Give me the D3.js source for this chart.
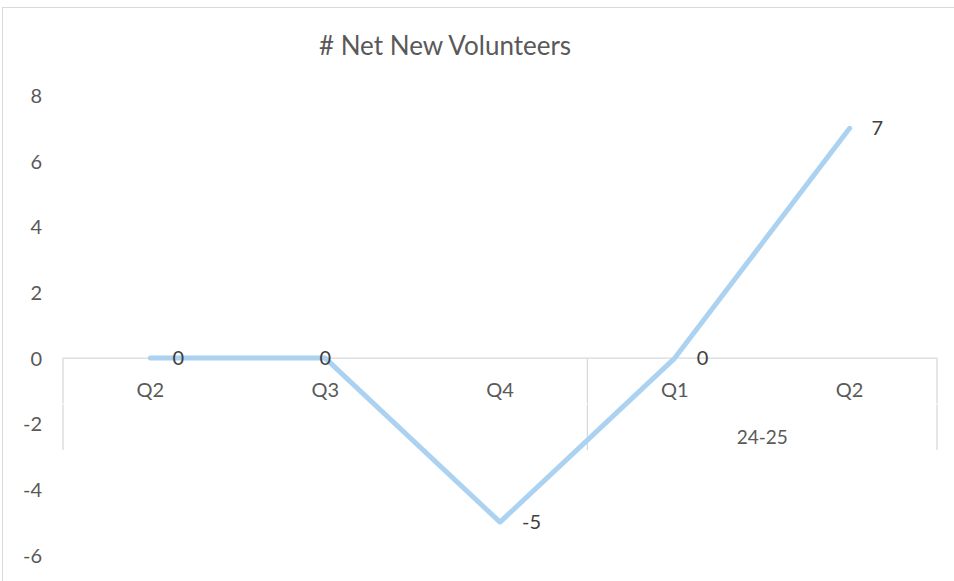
<!DOCTYPE html>
<html>
<head>
<meta charset="utf-8">
<script src="https://cdn.jsdelivr.net/npm/d3@7"></script>
<style>
  html, body { margin: 0; padding: 0; background: #fff; }
  svg { display: block; font-family: Lato, "Open Sans", sans-serif; }
</style>
</head>
<body>
<svg id="chart" width="954" height="581"></svg>
<script>
// Quarterly net change in volunteer count
const chartTitle = "# Net New Volunteers";
const quarters = ["Q2", "Q3", "Q4", "Q1", "Q2"];
const fiscalYears = ["", "", "", "24-25", "24-25"];
const netNew = [0, 0, -5, 0, 7];
const yTicks = [-6, -4, -2, 0, 2, 4, 6, 8];

const svg = d3.select("#chart");
const W = 954, H = 581;
const fmt = d => String(d);   // plain hyphen-minus for negatives

// chart area frame
svg.append("rect")
  .attr("x", 2.5).attr("y", 7.5)
  .attr("width", W + 10).attr("height", H + 10)
  .attr("fill", "#fff").attr("stroke", "#d9d9d9").attr("stroke-width", 1);

const plot = { left: 63, right: 937, top: 95.5, bottom: 555 };

const x = d3.scaleBand()
  .domain(d3.range(quarters.length))
  .range([plot.left, plot.right])
  .paddingInner(0).paddingOuter(0);
const cx = i => x(i) + x.bandwidth() / 2;

const y = d3.scaleLinear().domain([-6, 8]).range([plot.bottom, plot.top]);

// title
svg.append("text")
  .attr("x", 445).attr("y", 55)
  .attr("text-anchor", "middle")
  .attr("fill", "#595959")
  .attr("font-size", 26)
  .text(chartTitle);

// value axis labels (no axis line)
const yAxis = d3.axisLeft(y).tickValues(yTicks).tickSize(0).tickPadding(0)
  .tickFormat(fmt);
const yG = svg.append("g").attr("transform", `translate(${42},0)`).call(yAxis);
yG.select(".domain").remove();
yG.selectAll("text")
  .attr("fill", "#595959")
  .attr("font-size", 20)
  .attr("font-family", "Lato, 'Open Sans', sans-serif")
  .attr("dy", "0.35em");

// category axis at zero
const y0 = y(0);
svg.append("line")
  .attr("x1", plot.left).attr("x2", plot.right)
  .attr("y1", y0).attr("y2", y0)
  .attr("stroke", "#d9d9d9").attr("stroke-width", 1.3);

// group boundaries for the two-level category axis
const groups = [];
fiscalYears.forEach((g, i) => {
  if (i === 0 || g !== fiscalYears[i - 1]) groups.push({ label: g, start: i, end: i });
  else groups[groups.length - 1].end = i;
});
const boundaryX = [x(0)].concat(groups.map(g => x(g.end) + x.bandwidth()));
const levelSplit = 404;
const axisBottom = 450;
boundaryX.forEach(bx => {
  svg.append("line")
    .attr("x1", bx).attr("x2", bx).attr("y1", y0).attr("y2", levelSplit - 0.5)
    .attr("stroke", "#d9d9d9").attr("stroke-width", 1.3);
  svg.append("line")
    .attr("x1", bx).attr("x2", bx).attr("y1", levelSplit + 0.5).attr("y2", axisBottom)
    .attr("stroke", "#d9d9d9").attr("stroke-width", 1.3);
});

// quarter labels
svg.append("g").selectAll("text")
  .data(quarters)
  .join("text")
  .attr("x", (d, i) => cx(i))
  .attr("y", 390)
  .attr("dy", "0.35em")
  .attr("text-anchor", "middle")
  .attr("fill", "#595959")
  .attr("font-size", 20)
  .text(d => d);

// fiscal year labels
svg.append("g").selectAll("text")
  .data(groups.filter(g => g.label))
  .join("text")
  .attr("x", g => (x(g.start) + x(g.end) + x.bandwidth()) / 2)
  .attr("y", 437)
  .attr("dy", "0.35em")
  .attr("text-anchor", "middle")
  .attr("fill", "#595959")
  .attr("font-size", 19)
  .text(g => g.label);

// series line
const line = d3.line().x((d, i) => cx(i)).y(d => y(d));
svg.append("path")
  .datum(netNew)
  .attr("d", line)
  .attr("fill", "none")
  .attr("stroke", "#acd2f1")
  .attr("stroke-width", 5)
  .attr("stroke-linecap", "round")
  .attr("stroke-linejoin", "round");

// data labels: to the right of each point, centred where it would collide
const centred = new Set([1]);
svg.append("g").selectAll("text")
  .data(netNew)
  .join("text")
  .attr("x", (d, i) => centred.has(i) ? cx(i) : cx(i) + 22)
  .attr("y", d => y(d))
  .attr("dy", "0.35em")
  .attr("text-anchor", (d, i) => centred.has(i) ? "middle" : "start")
  .attr("fill", "#404040")
  .attr("font-size", 20)
  .text(fmt);
</script>
</body>
</html>
